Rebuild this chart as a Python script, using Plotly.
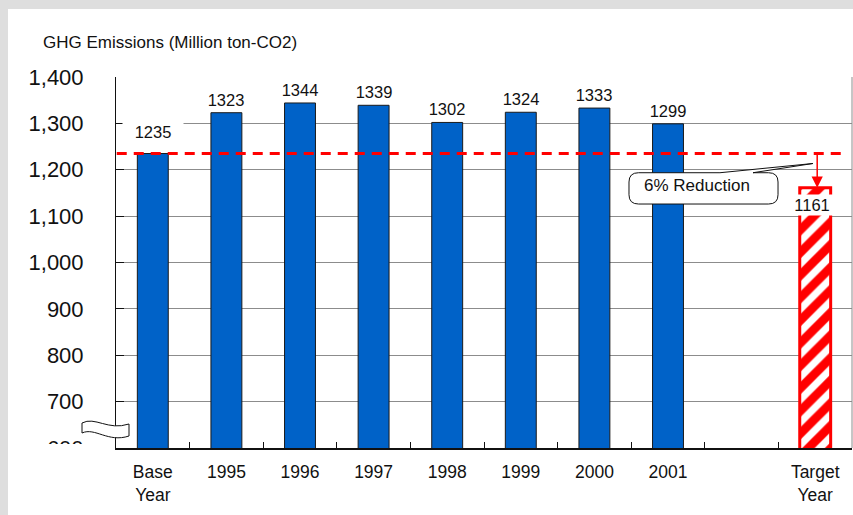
import plotly.graph_objects as go

# ---- data ----
categories = ["Base<br>Year", "1995", "1996", "1997", "1998", "1999", "2000", "2001", " ", "Target<br>Year"]
years = ["Base<br>Year", "1995", "1996", "1997", "1998", "1999", "2000", "2001"]
emissions = [1235, 1323, 1344, 1339, 1302, 1324, 1333, 1299]
target_cat = ["Target<br>Year"]
target_val = [1161]
baseline = 1235
reduction_text = "6% Reduction"
y_title = "GHG Emissions (Million ton-CO2)"

FONT = "Liberation Sans, Arial, sans-serif"
BLUE = "#0062C8"
W, H = 853, 515
ML, MR, MT, MB = 116, 1, 77, 67
PW = W - ML - MR
PH = H - MT - MB


def px_x(p):
    return (p - ML) / PW


def px_y(p):
    return (H - MB - p) / PH


def idx(c):
    return categories.index(c)


fig = go.Figure()

fig.add_trace(go.Bar(
    x=years, y=emissions, width=0.42,
    marker=dict(color=BLUE, line=dict(color="#1a1a1a", width=1)),
    hoverinfo="x+y", showlegend=False,
))
fig.add_trace(go.Bar(
    x=target_cat, y=target_val, width=0.42,
    marker=dict(color="white", line=dict(color="#ff0000", width=3),
                pattern=dict(shape="/", fgcolor="#ff0000", bgcolor="white", fgopacity=1,
                             size=16, solidity=0.55)),
    showlegend=False,
))

annotations = []
for c, v in zip(years, emissions):
    annotations.append(dict(
        x=idx(c), y=v, xref="x", yref="y", text=str(v), showarrow=False, yanchor="middle",
        yshift=22 if v == baseline else 13,
        font=dict(family=FONT, size=16.5, color="#111"),
        bgcolor="white", borderpad=2, width=56,
    ))
for c, v in zip(target_cat, target_val):
    annotations.append(dict(
        x=idx(c), y=v, xref="x", yref="y", text=str(v), showarrow=False, yanchor="middle",
        yshift=-17, xshift=-3,
        font=dict(family=FONT, size=16.5, color="#111"),
        bgcolor="white", borderpad=1, width=46,
    ))
    # arrow from baseline down to target
    annotations.append(dict(
        x=idx(c), y=v, ax=idx(c), ay=baseline, axref="x", ayref="y", xref="x", yref="y",
        xshift=2,
        text="", showarrow=True, arrowhead=2, arrowsize=1.5, arrowwidth=1.5,
        arrowcolor="#ff0000", standoff=0,
    ))

# y-axis title
annotations.append(dict(
    x=px_x(41), y=px_y(43), xref="paper", yref="paper", xanchor="left", yanchor="middle",
    text=y_title, showarrow=False, font=dict(family=FONT, size=17, color="#111"),
))
# callout text
annotations.append(dict(
    x=7.39, y=1166, xref="x", yref="y", text=reduction_text, showarrow=False,
    font=dict(family=FONT, size=17, color="#111"),
))

# callout shape (rounded box with thin tail)
bx0, bx1, by0, by1 = 6.47, 8.495, 1126.1, 1193.6
rx, ry = 0.13, 20
t1, t2, tipx, tipy = 7.706, 8.155, 8.97, 1213.5
callout_path = (
    f"M {bx0+rx},{by1} L {t1},{by1} L {tipx},{tipy} L {t2},{by1} L {bx1-rx},{by1} "
    f"Q {bx1},{by1} {bx1},{by1-ry} L {bx1},{by0+ry} Q {bx1},{by0} {bx1-rx},{by0} "
    f"L {bx0+rx},{by0} Q {bx0},{by0} {bx0},{by0+ry} L {bx0},{by1-ry} Q {bx0},{by1} {bx0+rx},{by1} Z"
)


# axis break symbol (pixel-based decoration)
def P(x, y):
    return f"{px_x(x)},{px_y(y)}"


break_path = (
    f"M {P(82,423)} C {P(95,416)} {P(108,431)} {P(129,424)} L {P(129,436)} "
    f"C {P(108,443)} {P(95,427)} {P(82,433)} Z"
)

shapes = [
    # white panel over textured gray page
    dict(type="rect", xref="paper", yref="paper", x0=px_x(8), x1=px_x(W + 2), y0=px_y(H + 2), y1=px_y(9),
         fillcolor="white", line=dict(width=0), layer="below"),
    # right frame line
    dict(type="line", xref="paper", yref="paper", x0=px_x(852), x1=px_x(852), y0=0, y1=1,
         line=dict(color="#8c8c8c", width=1), layer="above"),
    # baseline dashed line
    dict(type="line", xref="x", yref="y", x0=-0.49, x1=9.38, y0=baseline, y1=baseline,
         line=dict(color="#ff0000", width=3, dash="10px,7px"), layer="above"),
    # callout
    dict(type="path", xref="x", yref="y", path=callout_path, fillcolor="white",
         line=dict(color="#111", width=1), layer="above"),
    # cover lower part of the lowest tick label
    dict(type="rect", xref="paper", yref="paper", x0=px_x(10), x1=px_x(112), y0=px_y(470), y1=px_y(444),
         fillcolor="white", line=dict(width=0), layer="above"),
    # axis break
    dict(type="path", xref="paper", yref="paper", path=break_path, fillcolor="white",
         line=dict(color="#111", width=1), layer="above"),
]

fig.update_layout(
    width=W, height=H,
    margin=dict(l=ML, r=MR, t=MT, b=MB, pad=0),
    paper_bgcolor="#dedede", plot_bgcolor="white",
    font=dict(family=FONT, color="#111"),
    bargap=0.5, showlegend=False,
    annotations=annotations, shapes=shapes,
    xaxis=dict(
        type="category", categoryorder="array", categoryarray=categories,
        range=[-0.5, len(categories) - 0.5],
        showline=True, linecolor="#111", linewidth=1.5,
        ticks="inside", ticklen=6, tickcolor="#111", tickson="boundaries",
        showgrid=False, tickfont=dict(family=FONT, size=17.5, color="#111"),
        ticklabelstandoff=7, fixedrange=True,
    ),
    yaxis=dict(
        range=[600, 1400], dtick=100, tick0=600, tickformat=",",
        showline=True, linecolor="#111", linewidth=1,
        ticks="inside", ticklen=8, tickcolor="#111",
        showgrid=True, gridcolor="#8c8c8c", gridwidth=1, zeroline=False,
        tickfont=dict(family=FONT, size=22, color="#111"),
        ticklabelstandoff=27, fixedrange=True,
    ),
)

fig.write_html("out.html")
